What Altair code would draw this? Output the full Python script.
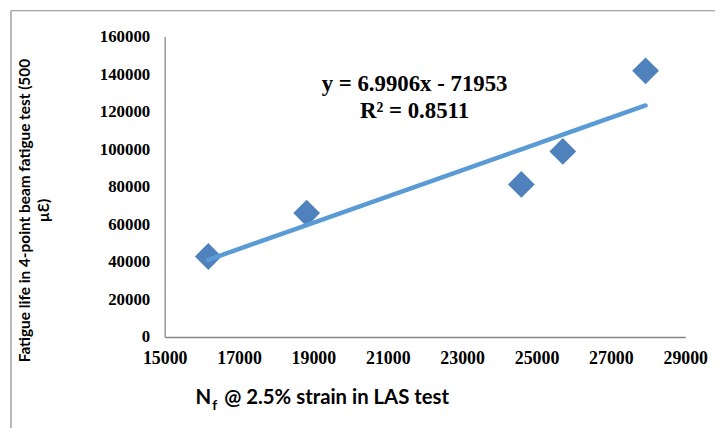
import altair as alt
import pandas as pd

# Data
nf_las = [16173, 18819, 24592, 25707, 27933]           # Nf @ 2.5% strain in LAS test
fatigue_life = [42860, 66015, 81237, 98837, 141754]    # Fatigue life in 4-point beam test
slope = 6.9906
intercept = -71953
r2 = 0.8511
x_ticks = [15000, 17000, 19000, 21000, 23000, 25000, 27000, 29000]
y_ticks = [0, 20000, 40000, 60000, 80000, 100000, 120000, 140000, 160000]

df = pd.DataFrame({"x": nf_las, "y": fatigue_life})
one = pd.DataFrame({"k": [0]})

SERIF = "Liberation Serif"
SANS = "Lato"
AX_COL = "#868686"

xscale = alt.Scale(domain=[15000, 29000], nice=False, zero=False)
yscale = alt.Scale(domain=[0, 160000], nice=False)

x_axis = alt.Axis(values=x_ticks, format="d", title=None, ticks=False, grid=False,
                  labelOverlap=False, labelFlush=False, labelBound=False,
                  domainColor=AX_COL, domainWidth=1.3, labelFont=SERIF, labelFontWeight="bold",
                  labelFontSize=18, labelColor="black", labelPadding=13)
y_axis = alt.Axis(values=y_ticks, format="d", ticks=False, grid=False,
                  labelOverlap=False, labelFlush=False, labelBound=False,
                  domainColor=AX_COL, domainWidth=1.3, labelFont=SERIF, labelFontWeight="bold",
                  labelFontSize=17, labelColor="black", labelPadding=15,
                  title=["Fatigue life in 4-point beam fatigue test (500", "µƐ)"],
                  titleFont=SANS, titleFontWeight="bold", titleFontSize=15.5, titleColor="black",
                  titleAngle=270, titleAlign="center", titleBaseline="alphabetic",
                  titleLineHeight=19, titleX=-136, titleY=175)

base = alt.Chart(df)

points = base.mark_point(shape="diamond", filled=True, size=729, color="#4F81BD", opacity=1).encode(
    x=alt.X("x:Q", scale=xscale, axis=x_axis),
    y=alt.Y("y:Q", scale=yscale, axis=y_axis),
)

trend = base.transform_calculate(
    yfit=f"{slope} * datum.x + ({intercept})"
).mark_line(color="#5B9BD5", strokeWidth=4.5, strokeCap="round").encode(
    x=alt.X("x:Q", scale=xscale, axis=x_axis),
    y=alt.Y("yfit:Q", scale=yscale, axis=y_axis),
)

eq_text = alt.Chart(one).mark_text(
    font=SERIF, fontWeight="bold", fontSize=23, color="black", align="center",
    baseline="alphabetic", lineHeight=27,
).encode(
    x=alt.XDatum(21720, type="quantitative", scale=xscale, axis=x_axis),
    y=alt.YDatum(130900, type="quantitative", scale=yscale, axis=y_axis),
    text=alt.value([f"y = {slope}x - {abs(intercept)}", f"R² = {r2}"]),
)

xt_n = alt.Chart(one).mark_text(font=SANS, fontWeight="bold", fontSize=20.5, color="black",
                                align="left", baseline="alphabetic").encode(
    x=alt.value(31), y=alt.value(371), text=alt.value("N"))
xt_f = alt.Chart(one).mark_text(font=SANS, fontWeight="bold", fontSize=14, color="black",
                                align="left", baseline="alphabetic").encode(
    x=alt.value(48), y=alt.value(377), text=alt.value("f"))
xt_rest = alt.Chart(one).mark_text(font=SANS, fontWeight="bold", fontSize=20.5, color="black",
                                   align="left", baseline="alphabetic").encode(
    x=alt.value(60), y=alt.value(371), text=alt.value("@ 2.5% strain in LAS test"))

frame_left = alt.Chart(one).mark_rule(color="#8c8c8c", strokeWidth=1.2).encode(
    x=alt.value(-155), y=alt.value(-26), y2=alt.value(600))
frame_top = alt.Chart(one).mark_rule(color="#8c8c8c", strokeWidth=1.2).encode(
    x=alt.value(-155), x2=alt.value(700), y=alt.value(-26))

chart = alt.layer(points, trend, frame_left, frame_top, eq_text, xt_n, xt_f, xt_rest).properties(
    width=525, height=303,
    background="white",
    autosize=alt.AutoSizeParams(type="none"),
    padding={"left": 158, "top": 27, "right": 30, "bottom": 90},
).configure_view(stroke=None).configure_axis(labelOverlap=False, labelFlush=False)

chart.save("out.html", embed_options={"renderer": "svg", "actions": False})
